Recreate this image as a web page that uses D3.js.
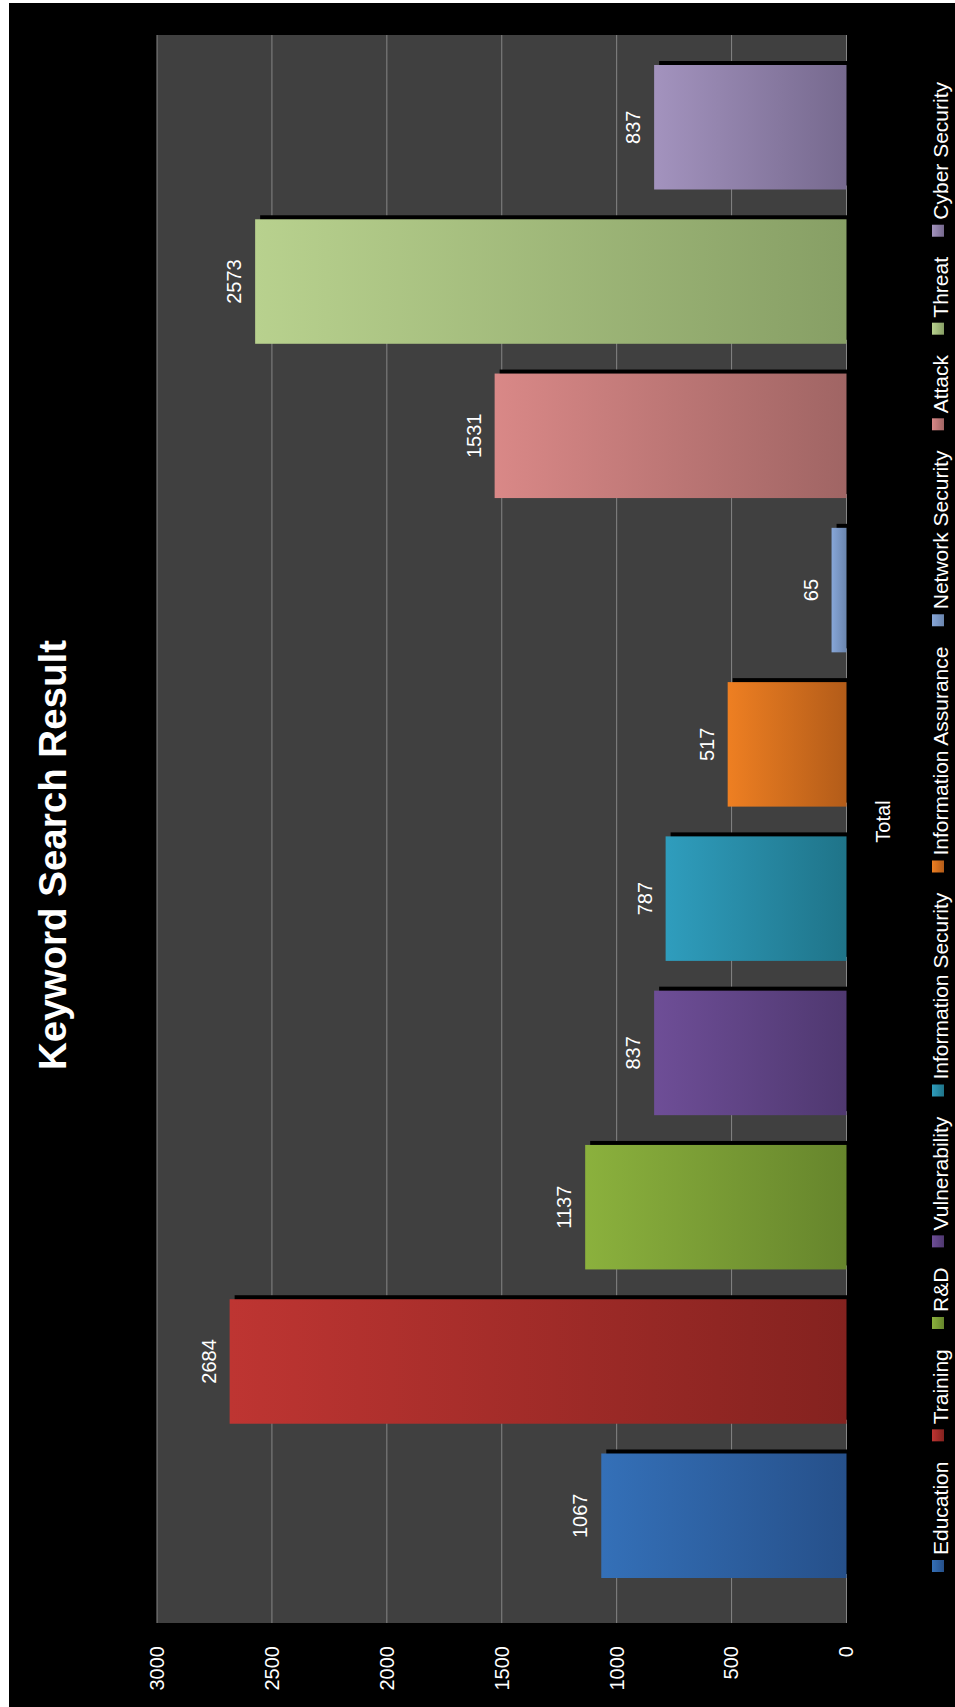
<!DOCTYPE html>
<html><head><meta charset="utf-8">
<script src="https://cdn.jsdelivr.net/npm/d3@7"></script>
<style>html,body{margin:0;padding:0;background:#fff;} svg{display:block;}</style>
</head><body>
<script>
const categories = ["Education","Training","R&D","Vulnerability","Information Security","Information Assurance","Network Security","Attack","Threat","Cyber Security"];
const values = [1067, 2684, 1137, 837, 787, 517, 65, 1531, 2573, 837];
const lightColors = ["#3470B8","#BE3532","#8BB13D","#6E4E97","#2F9DBD","#EE7F22","#87A6D8","#D98887","#B8D18E","#A393BE"];
const darkColors  = ["#26508A","#84221F","#66852C","#4F3870","#1F7489","#B35C19","#6A85AE","#A06564","#879F65","#76698E"];
const valueTicks = [0, 500, 1000, 1500, 2000, 2500, 3000];
const groupLabel = "Total";
const chartTitle = "Keyword Search Result";

const W = 955, H = 1707;
const FONT = "'Liberation Sans', Arial, Helvetica, sans-serif";
const svg = d3.select("body").append("svg").attr("width", W).attr("height", H);
svg.append("rect").attr("width", W).attr("height", H).attr("fill", "#fff");

// landscape chart rotated 90deg counter-clockwise
const g = svg.append("g").attr("transform", `translate(0,${H}) rotate(-90)`);
g.append("rect").attr("x", 0).attr("y", 9).attr("width", 1704).attr("height", 946).attr("fill", "#000");

const plot = {x0: 84, x1: 1672, y0: 157, y1: 846.5};
g.append("rect").attr("x", plot.x0).attr("y", plot.y0)
  .attr("width", plot.x1 - plot.x0).attr("height", plot.y1 - plot.y0).attr("fill", "#404040");

const y = d3.scaleLinear().domain([0, 3000]).range([plot.y1, plot.y0]);
const x = d3.scaleBand().domain(categories).range([129, 1642]).paddingInner(0.193).paddingOuter(0);

// gridlines
g.append("g").selectAll("line").data(valueTicks).join("line")
  .attr("x1", plot.x0).attr("x2", plot.x1)
  .attr("y1", d => y(d)).attr("y2", d => y(d))
  .attr("stroke", "#858585").attr("stroke-width", 1);

// axis labels
const axis = g.append("g").attr("transform", `translate(${plot.x0},0)`)
  .call(d3.axisLeft(y).tickValues(valueTicks).tickSize(0).tickPadding(23).tickFormat(d3.format("d")));
axis.select(".domain").remove();
axis.selectAll("text").attr("fill", "#fff").style("font-family", FONT).style("font-size", "20px");

// gradients
const defs = svg.append("defs");
categories.forEach((c, i) => {
  const gr = defs.append("linearGradient").attr("id", "grad" + i)
    .attr("x1", 0).attr("y1", 0).attr("x2", 0).attr("y2", 1);
  gr.append("stop").attr("offset", "0%").attr("stop-color", lightColors[i]);
  gr.append("stop").attr("offset", "100%").attr("stop-color", darkColors[i]);
});

const data = categories.map((c, i) => ({c, v: values[i], i}));

// shadows
g.append("g").selectAll("rect").data(data).join("rect")
  .attr("x", d => x(d.c) + 4).attr("y", d => y(d.v) + 5)
  .attr("width", x.bandwidth()).attr("height", d => y(0) - y(d.v))
  .attr("fill", "#000");

// bars
g.append("g").selectAll("rect").data(data).join("rect")
  .attr("x", d => x(d.c)).attr("y", d => y(d.v))
  .attr("width", x.bandwidth()).attr("height", d => y(0) - y(d.v))
  .attr("fill", d => `url(#grad${d.i})`);

// data labels
g.append("g").selectAll("text").data(data).join("text")
  .attr("x", d => x(d.c) + x.bandwidth() / 2).attr("y", d => y(d.v) - 14)
  .attr("text-anchor", "middle").attr("fill", "#fff")
  .style("font-family", FONT).style("font-size", "20px")
  .text(d => d.v);

// title
g.append("text").attr("x", 852).attr("y", 66).attr("text-anchor", "middle")
  .attr("fill", "#fff").style("font-family", FONT).style("font-size", "38.5px").style("font-weight", "bold")
  .text(chartTitle);

// category label
g.append("text").attr("x", (x.range()[0] + x.range()[1]) / 2).attr("y", 890).attr("text-anchor", "middle")
  .attr("fill", "#fff").style("font-family", FONT).style("font-size", "20px")
  .text(groupLabel);

// legend
const lg = g.append("g");
const sq = 12, sqGap = 5, startX = 135, endX = 1625;
const items = data.map(d => {
  const item = lg.append("g");
  item.append("rect").attr("width", sq).attr("height", sq).attr("y", 932)
    .attr("fill", `url(#grad${d.i})`);
  const t = item.append("text").attr("y", 948).attr("fill", "#fff")
    .style("font-family", FONT).style("font-size", "21px").text(d.c);
  return {item, t, len: t.node().getComputedTextLength()};
});
const total = d3.sum(items, it => sq + sqGap + it.len);
const gap = (endX - startX - total) / (items.length - 1);
let cx = startX;
items.forEach(it => {
  it.item.select("rect").attr("x", cx);
  it.t.attr("x", cx + sq + sqGap);
  cx += sq + sqGap + it.len + gap;
});
</script>
</body></html>
